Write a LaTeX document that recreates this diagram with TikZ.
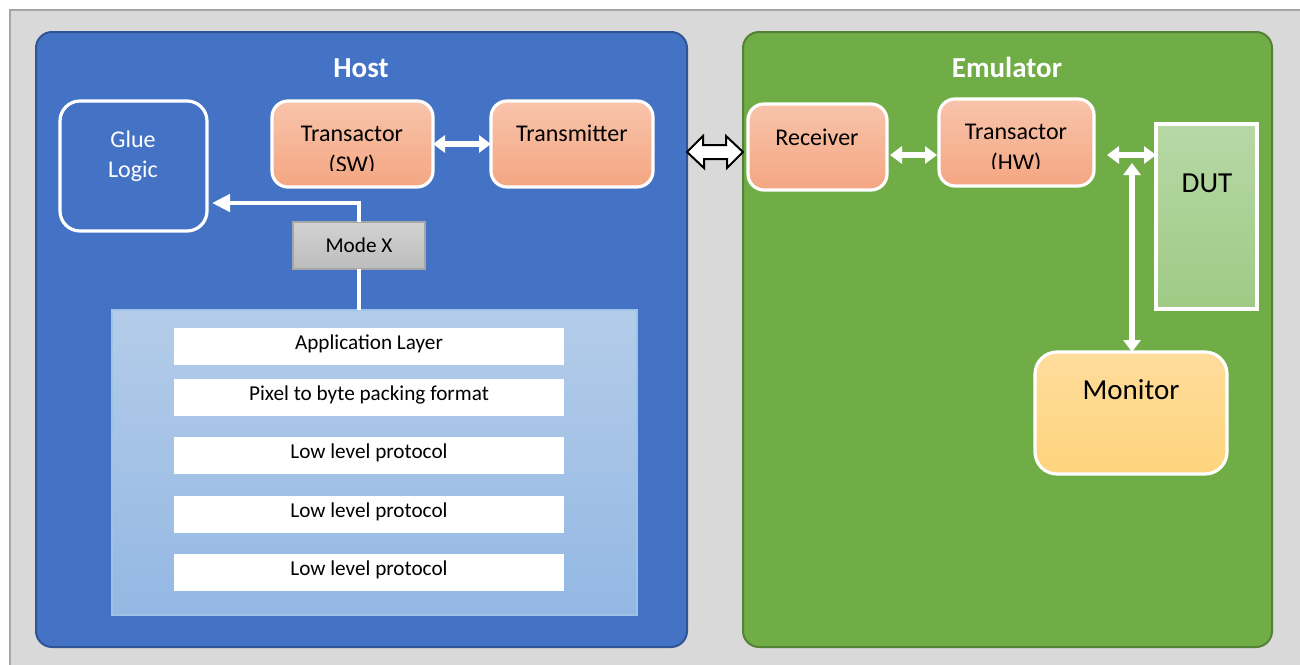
\documentclass[tikz,border=0pt]{standalone}
\usepackage{fontspec}
\setmainfont{Carlito}
\usetikzlibrary{arrows.meta,fit,calc}
\definecolor{bggray}{HTML}{D9D9D9}
\definecolor{bgborder}{HTML}{A6A6A6}
\definecolor{hostblue}{HTML}{4472C4}
\definecolor{hostborder}{HTML}{2F5597}
\definecolor{emugreen}{HTML}{70AD47}
\definecolor{emuborder}{HTML}{538135}
\definecolor{salmontop}{HTML}{F8C4AB}
\definecolor{salmonbot}{HTML}{F4A682}
\definecolor{montop}{HTML}{FEDC9C}
\definecolor{monbot}{HTML}{FED47C}
\definecolor{duttop}{HTML}{B7D8A6}
\definecolor{dutbot}{HTML}{9FCA85}
\definecolor{stacktop}{HTML}{B4CCE9}
\definecolor{stackbot}{HTML}{93B8E3}
\definecolor{stackborder}{HTML}{9DC3E6}
\definecolor{modetop}{HTML}{D2D2D2}
\definecolor{modebot}{HTML}{BDBDBD}
\tikzset{
  fitbox/.style={inner sep=0pt, outer sep=0pt},
  hostbox/.style={fitbox, fill=hostblue, draw=hostborder, line width=1pt, rounded corners=8pt},
  emubox/.style={fitbox, fill=emugreen, draw=emuborder, line width=1pt, rounded corners=8pt},
  gluebox/.style={fitbox, draw=white, line width=1.6pt, rounded corners=10pt},
  salmonbox/.style={fitbox, top color=salmontop, bottom color=salmonbot, draw=white, line width=1.6pt, rounded corners=8pt},
  monbox/.style={fitbox, top color=montop, bottom color=monbot, draw=white, line width=1.6pt, rounded corners=11pt},
  dutbox/.style={fitbox, top color=duttop, bottom color=dutbot, draw=white, line width=1.6pt},
  stackbox/.style={fitbox, top color=stacktop, bottom color=stackbot, draw=stackborder, line width=0.6pt},
  barbox/.style={fitbox, fill=white},
  bartxt/.style={inner sep=0pt, font=\fontsize{10.6}{12}\selectfont},
  modebox/.style={fitbox, top color=modetop, bottom color=modebot, draw=bgborder, line width=0.6pt},
  titletxt/.style={text=white, font=\fontsize{14.5}{17}\selectfont\bfseries},
  boxtxt/.style={align=center, inner sep=0pt, font=\fontsize{12}{14}\selectfont},
  basetxt/.style={inner sep=0pt, anchor=base, font=\fontsize{12}{14}\selectfont},
  bigtxt/.style={inner sep=0pt, font=\fontsize{14.5}{17}\selectfont},
  warrow/.style={draw=white, line width=2.6pt, {Triangle[length=6pt,width=8.5pt]}-{Triangle[length=6pt,width=8.5pt]}},
  wline/.style={draw=white, line width=2.2pt},
}
\begin{document}
\begin{tikzpicture}[x=0.5pt,y=-0.5pt]
\useasboundingbox (0,0) rectangle (1300,664);
\fill[white] (0,0) rectangle (1300,664);
\begin{scope}
\clip (0,0) rectangle (1300,664);
\draw[fill=bggray, draw=bgborder, line width=0.6pt] (10,10) rectangle (1310,680);
\end{scope}

% Host
\node[hostbox, fit={(36,32)(687,647)}] (host) {};
\node[titletxt] (hosttitle) at (361,68) {Host};

\node[gluebox, fit={(60,101)(207,231)}] (glue) {};
\node[boxtxt, text=white, font=\fontsize{12}{15}\selectfont] (gluetxt) at (133,156) {Glue\\Logic};

\node[salmonbox, fit={(272,101)(433,187)}] (tsw) {};
\node[basetxt] (tswtxt) at (352,141) {Transactor};
\begin{scope}
\clip (272,101) rectangle (433,170);
\node[basetxt] (tswtxtb) at (352,172) {(SW)};
\end{scope}

\node[salmonbox, fit={(491,101)(653,187)}] (tx) {};
\node[basetxt] (txtxt) at (572,141) {Transmitter};

\draw[warrow] (tsw) -- (tx);

\node[modebox, fit={(293,222)(425,269)}] (modex) {};
\node[bartxt] (modetxt) at (359,245) {Mode X};

\coordinate (gluein) at (212,203);
\draw[wline, -{Triangle[length=9pt,width=8.5pt]}] (modex.north) |- (gluein);

\node[stackbox, fit={(112,310)(637,615)}] (stack) {};
\draw[wline] (modex.south) -- (modex.south |- stack.north);

\node[barbox, fit={(174,328)(564,365)}] (b1) {};
\node[bartxt] (t1) at (369,344) {Application Layer};
\node[barbox, fit={(174,379)(564,416)}] (b2) {};
\node[bartxt] (t2) at (369,395) {Pixel to byte packing format};
\node[barbox, fit={(174,437)(564,474)}] (b3) {};
\node[bartxt] (t3) at (369,453) {Low level protocol};
\node[barbox, fit={(174,496)(564,533)}] (b4) {};
\node[bartxt] (t4) at (369,512) {Low level protocol};
\node[barbox, fit={(174,554)(564,591)}] (b5) {};
\node[bartxt] (t5) at (369,570) {Low level protocol};

% Emulator
\node[emubox, fit={(743,32)(1272,647)}] (emu) {};
\node[titletxt] (emutitle) at (1007,67) {Emulator};

% outlined double arrow between Host and Emulator
\draw[fill=white, draw=black, line width=1pt, line join=miter]
  (host.east |- 0,152) -- ++(16,-16) -- ++(0,9) -- ++(23,0) -- ++(0,-9) -- (emu.west |- 0,152)
  -- ++(-16,16) -- ++(0,-9) -- ++(-23,0) -- ++(0,9) -- cycle;

\node[salmonbox, fit={(748,104)(887,190)}] (recv) {};
\node[basetxt] (recvtxt) at (817,145) {Receiver};

\node[salmonbox, fit={(939,99)(1094,186)}] (thw) {};
\node[basetxt] (thwtxt) at (1016,139) {Transactor};
\begin{scope}
\clip (939,99) rectangle (1094,168);
\node[basetxt] (thwtxtb) at (1016,170) {(HW)};
\end{scope}

\draw[warrow] ([xshift=1.5pt,yshift=-4pt]recv.east) -- ([xshift=-1pt,yshift=-6.25pt]thw.west);

\node[dutbox, fit={(1156,124)(1257,309)}] (dut) {};
\node[bigtxt] (duttxt) at (1207,183) {DUT};

\node[monbox, fit={(1035,352)(1227,474)}] (mon) {};
\node[bigtxt] (montxt) at (1131,390) {Monitor};

\coordinate (j) at (1132,155);
\draw[warrow] ([xshift=6.5pt]thw.east |- j) -- (dut.west |- j);
\draw[warrow] ([yshift=-4pt]j) -- (j |- mon.north);
\end{tikzpicture}
\end{document}
